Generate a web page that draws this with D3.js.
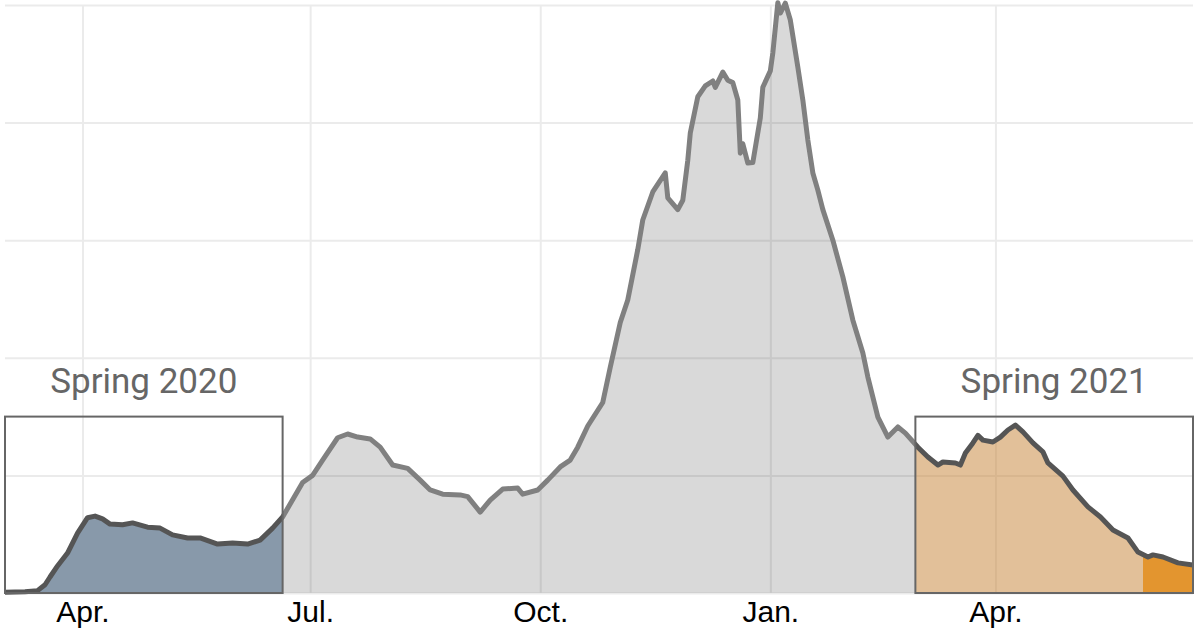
<!DOCTYPE html>
<html><head><meta charset="utf-8">
<script src="https://cdn.jsdelivr.net/npm/d3@7"></script>
<style>
html,body{margin:0;padding:0;background:#fff;}
svg{display:block;}
</style></head>
<body>
<svg id="chart" width="1200" height="628"></svg>
<script>
// ---- data (7-day average daily cases, thousands) ----
const dates = ["2020-03-01","2020-03-09","2020-03-14","2020-03-17","2020-03-19","2020-03-22","2020-03-26","2020-03-30","2020-04-03","2020-04-06","2020-04-09","2020-04-12","2020-04-17","2020-04-21","2020-04-27","2020-05-02","2020-05-07","2020-05-13","2020-05-18","2020-05-25","2020-05-31","2020-06-06","2020-06-11","2020-06-16","2020-06-20","2020-06-28","2020-07-02","2020-07-06","2020-07-12","2020-07-16","2020-07-20","2020-07-25","2020-07-29","2020-08-03","2020-08-09","2020-08-14","2020-08-18","2020-08-23","2020-08-30","2020-09-02","2020-09-07","2020-09-11","2020-09-16","2020-09-22","2020-09-24","2020-09-30","2020-10-04","2020-10-09","2020-10-13","2020-10-16","2020-10-20","2020-10-26","2020-10-29","2020-11-02","2020-11-05","2020-11-09","2020-11-11","2020-11-15","2020-11-20","2020-11-21","2020-11-25","2020-11-27","2020-11-29","2020-11-30","2020-12-03","2020-12-06","2020-12-09","2020-12-10","2020-12-13","2020-12-15","2020-12-17","2020-12-19","2020-12-20","2020-12-21","2020-12-23","2020-12-25","2020-12-28","2020-12-29","2021-01-01","2021-01-02","2021-01-04","2021-01-05","2021-01-07","2021-01-09","2021-01-12","2021-01-14","2021-01-16","2021-01-18","2021-01-20","2021-01-22","2021-01-26","2021-01-30","2021-02-03","2021-02-07","2021-02-09","2021-02-13","2021-02-17","2021-02-21","2021-02-24","2021-03-01","2021-03-05","2021-03-09","2021-03-11","2021-03-16","2021-03-18","2021-03-20","2021-03-23","2021-03-25","2021-03-27","2021-03-31","2021-04-03","2021-04-06","2021-04-09","2021-04-12","2021-04-16","2021-04-20","2021-04-22","2021-04-28","2021-05-02","2021-05-08","2021-05-13","2021-05-18","2021-05-24","2021-05-28","2021-06-01","2021-06-03","2021-06-07","2021-06-13","2021-06-19"];
const cases = [0.3,0.5,1.0,3.5,6.8,11.5,17,25.5,32,32.7,31.5,29.3,29,29.8,28,27.6,24.7,23.4,23.4,20.8,21.3,20.8,22.5,27.6,32.3,47,50,56.5,66,67.6,66.3,65.5,62,54.4,53,48,43.8,42,41.7,41,34.4,39.5,44.2,44.6,42,43.8,48,53.6,56.5,62,71,81,96,115,124.6,146,158.6,170.5,178.6,168,163,167,184,195.6,211,215.6,217.7,215,221.5,218,217,209.6,187,191,182.8,183,202,215,222,229.6,251,246.6,250.8,243.6,223.6,209.6,192.6,178.6,171.3,163,150,134.4,116,102,91.8,74.8,66.3,70.6,68,62,57.8,54.4,55.7,55.3,54.4,59.5,63.8,67,65,64.2,66.3,69.3,71.4,68.5,63.8,60,55.3,49.7,43.8,36.6,32.3,26.8,23.4,17.4,15.3,16.2,15.3,12.8,11.9];
const tickDates = ["2020-04-01","2020-07-01","2020-10-01","2021-01-01","2021-04-01"];
const tickLabels = ["Apr.","Jul.","Oct.","Jan.","Apr."];
const yTicks = [0,50,100,150,200,250];
const boxes = [
  {label:"Spring 2020", start:"2020-03-01", end:"2020-06-20", top:75},
  {label:"Spring 2021", start:"2021-02-28", end:"2021-06-19", top:75}
];
const recentStart = "2021-05-30";

// ---- setup ----
const parse = d3.timeParse("%Y-%m-%d");
const data = dates.map((d,i)=>({date:parse(d), v:cases[i]}));
const svg = d3.select("#chart");
const x = d3.scaleTime().domain([parse("2020-03-01"), parse("2021-06-19")]).range([5,1193]);
const y = d3.scaleLinear().domain([0,250]).range([593,5]);

// gridlines
svg.append("g").attr("transform","translate(0,593)")
  .call(d3.axisBottom(x).tickValues(tickDates.map(parse)).tickSize(-588).tickFormat(""))
  .call(g=>g.select(".domain").remove())
  .call(g=>g.selectAll("line").attr("stroke","#ebebeb").attr("stroke-width",2));
svg.append("g").attr("transform","translate(5,0)")
  .call(d3.axisLeft(y).tickValues(yTicks).tickSize(-1188).tickFormat(""))
  .call(g=>g.select(".domain").remove())
  .call(g=>g.selectAll("line").attr("stroke","#ebebeb").attr("stroke-width",2));

const area = d3.area().x(d=>x(d.date)).y0(y(0)).y1(d=>y(d.v)).curve(d3.curveLinear);
const line = d3.line().x(d=>x(d.date)).y(d=>y(d.v)).curve(d3.curveLinear);

const defs = svg.append("defs");
function clip(id, d0, d1){
  defs.append("clipPath").attr("id",id).append("rect")
    .attr("x",x(parse(d0))).attr("y",0)
    .attr("width",x(parse(d1))-x(parse(d0))).attr("height",628);
}
clip("cMid", boxes[0].end, boxes[1].start);
clip("cB1", boxes[0].start, boxes[0].end);
clip("cB2", boxes[1].start, boxes[1].end);
clip("cRecent", recentStart, boxes[1].end);

// areas
svg.append("path").datum(data).attr("d",area).attr("clip-path","url(#cMid)")
  .attr("fill","rgba(0,0,0,0.15)");
svg.append("path").datum(data).attr("d",area).attr("clip-path","url(#cB1)")
  .attr("fill","#8899aa");
svg.append("path").datum(data).attr("d",area).attr("clip-path","url(#cB2)")
  .attr("fill","rgba(198,130,52,0.5)");
svg.append("path").datum(data).attr("d",area).attr("clip-path","url(#cRecent)")
  .attr("fill","#e3952f");

// lines
svg.append("path").datum(data).attr("d",line).attr("clip-path","url(#cMid)")
  .attr("fill","none").attr("stroke","#808080").attr("stroke-width",5).attr("stroke-linejoin","round");
["cB1","cB2"].forEach(c=>{
  svg.append("path").datum(data).attr("d",line).attr("clip-path",`url(#${c})`)
    .attr("fill","none").attr("stroke","#555").attr("stroke-width",5).attr("stroke-linejoin","round");
});

// boxes
boxes.forEach(b=>{
  const x0 = x(parse(b.start)), x1 = x(parse(b.end));
  svg.append("rect").attr("x",x0).attr("y",y(b.top)).attr("width",x1-x0).attr("height",y(0)-y(b.top))
    .attr("fill","none").attr("stroke","#666").attr("stroke-width",2);
  svg.append("text").attr("x",(x0+x1)/2).attr("y",y(b.top)-24)
    .attr("text-anchor","middle").attr("font-family","Roboto").attr("font-size",35)
    .attr("fill","#666").text(b.label);
});

// x axis labels
svg.append("g").attr("transform","translate(0,593)")
  .call(d3.axisBottom(x).tickValues(tickDates.map(parse)).tickSize(0).tickPadding(0)
    .tickFormat((d,i)=>tickLabels[i]))
  .call(g=>g.select(".domain").remove())
  .call(g=>g.selectAll("text").attr("font-family","Liberation Sans, Arial, sans-serif")
    .attr("font-size",30).attr("fill","#000").attr("dy","0.95em"));
</script>
</body></html>
